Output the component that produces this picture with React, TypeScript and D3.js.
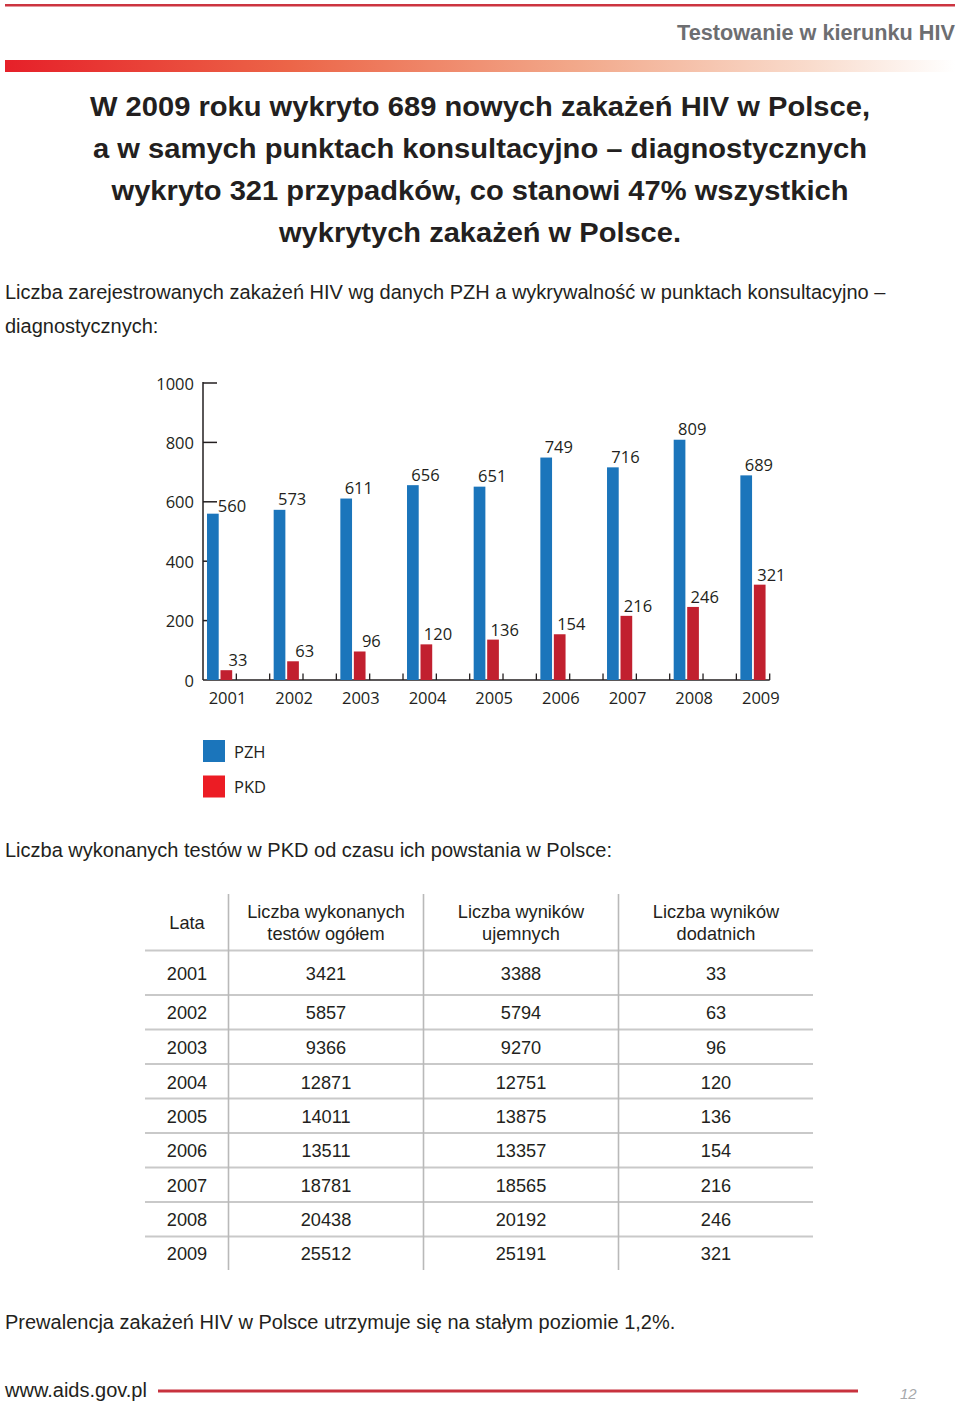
import React from "react";
import * as d3 from "d3";

const years = ["2001", "2002", "2003", "2004", "2005", "2006", "2007", "2008", "2009"];
const pzh = [560, 573, 611, 656, 651, 749, 716, 809, 689];
const pkd = [33, 63, 96, 120, 136, 154, 216, 246, 321];
const yTicks = [0, 200, 400, 600, 800, 1000];
const seriesNames = ["PZH", "PKD"];

const tableHeaders = [["Lata"], ["Liczba wykonanych", "testów ogółem"], ["Liczba wyników", "ujemnych"], ["Liczba wyników", "dodatnich"]];
const testsTotal = [3421, 5857, 9366, 12871, 14011, 13511, 18781, 20438, 25512];
const testsNegative = [3388, 5794, 9270, 12751, 13875, 13357, 18565, 20192, 25191];
const testsPositive = [33, 63, 96, 120, 136, 154, 216, 246, 321];

const titleLines = [
  "W 2009 roku wykryto 689 nowych zakażeń HIV w Polsce,",
  "a w samych punktach konsultacyjno – diagnostycznych",
  "wykryto 321 przypadków, co stanowi 47% wszystkich",
  "wykrytych zakażeń w Polsce.",
];
const titleWidths = [780, 774, 737, 402];
const intro1 = ["Liczba zarejestrowanych zakażeń HIV wg danych PZH a wykrywalność w punktach konsultacyjno –", "diagnostycznych:"];
const intro2 = "Liczba wykonanych testów w PKD od czasu ich powstania w Polsce:";
const outro = "Prewalencja zakażeń HIV w Polsce utrzymuje się na stałym poziomie 1,2%.";

const BLUE = "#1b75bb";
const RED = "#c1202f";
const LEG_RED = "#ec1c24";
const SANS = "'Liberation Sans', Arial, Helvetica, sans-serif";
const CHART = "'Open Sans', 'Noto Sans', sans-serif";
const INK = "#231f20";

export default function App() {
  const x = d3.scaleBand<string>().domain(years).range([203, 203 + 66.67 * 9]).paddingInner(0).paddingOuter(0);
  const y = d3.scaleLinear().domain([0, 1000]).range([680, 383]);
  const bw = 11.7;
  const halfTicks = d3.range(1, 18).map((k) => 203 + 33.335 * k);

  const colX = [187, 326, 521, 716];
  const rowY = [974, 1013, 1048, 1083, 1117, 1151, 1186, 1220, 1254];
  const hLines = [950.5, 995, 1029.5, 1064, 1098.5, 1133, 1167.5, 1202, 1236.5];
  const vLines = [228.5, 423.5, 618.5];

  return (
    <svg width={960} height={1404} style={{ position: "absolute", left: 0, top: 0, display: "block", background: "#fff" }}>
      <defs>
        <linearGradient id="hdrGrad" x1="0" x2="1" y1="0" y2="0">
          <stop offset="0" stopColor="#e62029" />
          <stop offset="0.3" stopColor="#ec6548" />
          <stop offset="0.6" stopColor="#f2a88a" />
          <stop offset="0.85" stopColor="#f9dccd" />
          <stop offset="1" stopColor="#ffffff" />
        </linearGradient>
      </defs>

      {/* header */}
      <rect x={5} y={4} width={950} height={2.5} fill="#cc3440" />
      <text x={955} y={32} textAnchor="end" dominantBaseline="central" fontFamily="'Liberation Sans Narrow', 'Liberation Sans', Arial, sans-serif" fontWeight="bold" fontSize={22} fill="#6d6e71" textLength={278} lengthAdjust="spacingAndGlyphs">Testowanie w kierunku HIV</text>
      <rect x={5} y={60} width={950} height={12} fill="url(#hdrGrad)" />

      {/* title */}
      {titleLines.map((t, i) => (
        <text key={i} x={480} y={106 + i * 42} textAnchor="middle" dominantBaseline="central" fontFamily={SANS} fontWeight="bold" fontSize={28.5} fill={INK} textLength={titleWidths[i]} lengthAdjust="spacingAndGlyphs">{t}</text>
      ))}

      {intro1.map((t, i) => (
        <text key={i} x={5} y={292 + i * 34} dominantBaseline="central" fontFamily={SANS} fontSize={20} fill={INK}>{t}</text>
      ))}

      {/* chart */}
      <g fontFamily={CHART} fontSize={16.5} fill={INK}>
        {yTicks.map((t) => (
          <g key={t}>
            <text x={194} y={y(t)} textAnchor="end" dominantBaseline="central">{t}</text>
            {t > 0 && <line x1={203} x2={217} y1={y(t)} y2={y(t)} stroke={INK} strokeWidth={1.5} />}
          </g>
        ))}
        <line x1={203} x2={203} y1={y(1000) - 1} y2={y(0)} stroke={INK} strokeWidth={1.5} />
        <line x1={203} x2={203 + 33.335 * 17} y1={y(0)} y2={y(0)} stroke={INK} strokeWidth={1.5} />
        {halfTicks.map((hx, i) => (
          <line key={i} x1={hx} x2={hx} y1={y(0)} y2={y(0) - 6.5} stroke={INK} strokeWidth={1.3} />
        ))}
        {years.map((yr, i) => {
          const b = x(yr) as number;
          return (
            <g key={yr}>
              <rect x={b + 4} y={y(pzh[i])} width={bw} height={y(0) - y(pzh[i])} fill={BLUE} />
              <rect x={b + 17.5} y={y(pkd[i])} width={bw} height={y(0) - y(pkd[i])} fill={RED} />
              <text x={b + (i === 0 ? 29 : 22.5)} y={y(pzh[i]) - (i === 0 ? 8 : 11)} textAnchor="middle" dominantBaseline="central">{pzh[i]}</text>
              <text x={b + 35} y={y(pkd[i]) - 10.5} textAnchor="middle" dominantBaseline="central">{pkd[i]}</text>
              <text x={b + 24.5} y={697.5} textAnchor="middle" dominantBaseline="central">{yr}</text>
            </g>
          );
        })}
        {seriesNames.map((s, i) => (
          <g key={s}>
            <rect x={203} y={740 + i * 35.5} width={22} height={22} fill={i === 0 ? BLUE : LEG_RED} />
            <text x={234} y={751 + i * 35.5} dominantBaseline="central">{s}</text>
          </g>
        ))}
      </g>

      <text x={5} y={850} dominantBaseline="central" fontFamily={SANS} fontSize={20} fill={INK}>{intro2}</text>

      {/* table */}
      <g fontFamily={SANS} fontSize={18.2} fill={INK}>
        {hLines.map((hy, i) => (
          <line key={i} x1={145} x2={813} y1={hy} y2={hy} stroke="#c9c9c9" strokeWidth={2.2} />
        ))}
        {vLines.map((vx, i) => (
          <line key={i} x1={vx} x2={vx} y1={894} y2={1270} stroke="#b9b9b9" strokeWidth={1.6} />
        ))}
        {tableHeaders.map((h, c) => (
          <text key={c} x={colX[c]} textAnchor="middle" dominantBaseline="central">
            {h.length === 1 ? (
              <tspan x={colX[c]} y={923}>{h[0]}</tspan>
            ) : (
              h.map((l, k) => (
                <tspan key={k} x={colX[c]} y={912 + k * 22}>{l}</tspan>
              ))
            )}
          </text>
        ))}
        {years.map((yr, r) => (
          <g key={yr}>
            <text x={colX[0]} y={rowY[r]} textAnchor="middle" dominantBaseline="central">{yr}</text>
            <text x={colX[1]} y={rowY[r]} textAnchor="middle" dominantBaseline="central">{testsTotal[r]}</text>
            <text x={colX[2]} y={rowY[r]} textAnchor="middle" dominantBaseline="central">{testsNegative[r]}</text>
            <text x={colX[3]} y={rowY[r]} textAnchor="middle" dominantBaseline="central">{testsPositive[r]}</text>
          </g>
        ))}
      </g>

      <text x={5} y={1322} dominantBaseline="central" fontFamily={SANS} fontSize={20} fill={INK}>{outro}</text>

      {/* footer */}
      <text x={5} y={1390} dominantBaseline="central" fontFamily={SANS} fontSize={20} fill={INK}>www.aids.gov.pl</text>
      <rect x={158} y={1389.5} width={700} height={3} fill="#c8323e" />
      <text x={900} y={1393} dominantBaseline="central" fontFamily={SANS} fontStyle="italic" fontSize={15} fill="#a7a9ac">12</text>
    </svg>
  );
}
